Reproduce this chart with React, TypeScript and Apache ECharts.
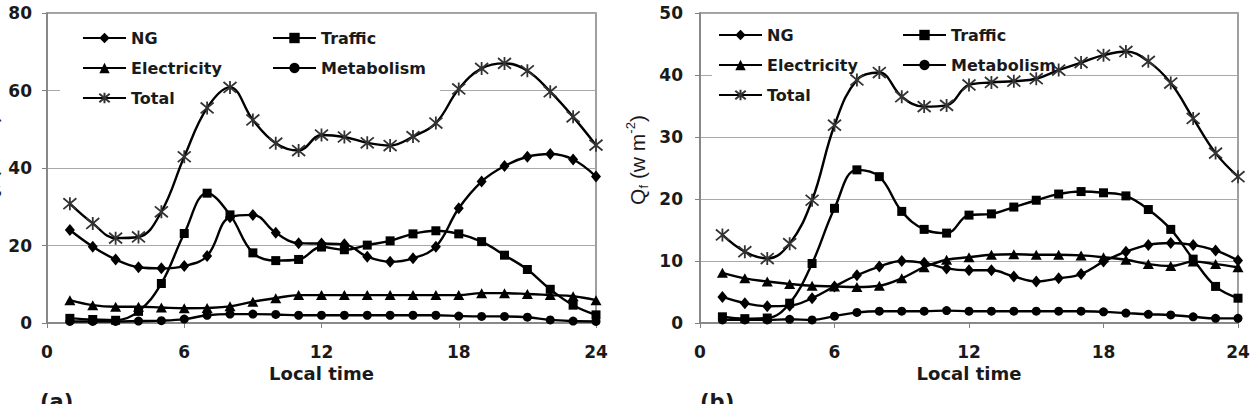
import React, { useEffect, useRef } from "react";
import * as echarts from "echarts";

// Hour of day (local time) for every sample
const HOURS = [1, 2, 3, 4, 5, 6, 7, 8, 9, 10, 11, 12, 13, 14, 15, 16, 17, 18, 19, 20, 21, 22, 23, 24];

// Panel (a): anthropogenic heat flux components
const NG_A = [24.0, 19.7, 16.4, 14.4, 14.1, 14.7, 17.3, 27.3, 27.9, 23.3, 20.6, 20.5, 20.3, 17.1, 15.8, 16.7, 19.7, 29.6, 36.5, 40.5, 42.9, 43.6, 42.2, 37.8];
const TRAFFIC_A = [1.2, 0.9, 0.7, 3.0, 10.2, 23.1, 33.5, 27.9, 18.1, 16.1, 16.4, 19.6, 18.9, 20.1, 21.2, 23.0, 23.8, 23.0, 21.0, 17.5, 13.8, 8.7, 4.6, 2.1];
const ELEC_A = [5.9, 4.6, 4.2, 4.2, 4.0, 3.8, 3.9, 4.3, 5.5, 6.4, 7.2, 7.2, 7.2, 7.2, 7.2, 7.2, 7.2, 7.2, 7.7, 7.7, 7.5, 7.2, 6.9, 5.9];
const META_A = [0.4, 0.4, 0.4, 0.5, 0.6, 1.0, 2.0, 2.3, 2.3, 2.2, 2.0, 2.0, 2.0, 2.0, 2.0, 2.0, 2.0, 1.8, 1.7, 1.7, 1.5, 0.8, 0.5, 0.4];
const TOTAL_A = [30.8, 25.7, 21.9, 22.2, 28.7, 42.9, 55.5, 60.8, 52.4, 46.4, 44.5, 48.5, 48.0, 46.5, 45.8, 48.1, 51.6, 60.4, 65.7, 67.0, 65.1, 59.7, 53.2, 45.9];

// Panel (b)
const NG_B = [4.2, 3.2, 2.7, 2.8, 4.0, 5.9, 7.7, 9.1, 10.0, 9.7, 8.8, 8.5, 8.5, 7.5, 6.7, 7.2, 7.9, 9.9, 11.5, 12.6, 12.9, 12.6, 11.7, 10.1];
const TRAFFIC_B = [1.0, 0.7, 0.8, 3.2, 9.6, 18.5, 24.7, 23.6, 18.0, 15.1, 14.5, 17.4, 17.6, 18.7, 19.8, 20.8, 21.2, 21.0, 20.5, 18.3, 15.1, 10.3, 5.9, 4.0];
const ELEC_B = [8.1, 7.2, 6.7, 6.3, 6.0, 5.9, 5.8, 6.0, 7.2, 9.0, 10.2, 10.6, 11.0, 11.1, 11.0, 11.0, 10.9, 10.6, 10.2, 9.5, 9.2, 9.9, 9.5, 9.0];
const META_B = [0.5, 0.5, 0.5, 0.6, 0.5, 1.1, 1.7, 1.9, 1.9, 1.9, 2.0, 1.9, 1.9, 1.9, 1.9, 1.9, 1.9, 1.8, 1.6, 1.4, 1.3, 1.0, 0.75, 0.75];
const TOTAL_B = [14.2, 11.5, 10.4, 12.8, 19.8, 31.9, 39.2, 40.4, 36.5, 34.9, 35.1, 38.4, 38.8, 39.0, 39.4, 40.8, 42.0, 43.2, 43.8, 42.2, 38.7, 33.0, 27.4, 23.6];

const X_TICKS = { min: 0, max: 24, interval: 6 };
const Y_A = { min: 0, max: 80, interval: 20 };
const Y_B = { min: 0, max: 50, interval: 10 };

const BOLD_FONT = "'DejaVu Sans', Verdana, sans-serif";
const PLAIN_FONT = "'Liberation Sans', Arial, Helvetica, sans-serif";
const INK = "#1a1a1a";
const AXIS_GRAY = "#808080";
const STAR = "path://M0,1L10,11M10,1L0,11M5,0L5,12";

type Kind = "NG" | "Traffic" | "Electricity" | "Metabolism" | "Total";

const MARKERS: Record<Kind, { symbol: string; size: number | number[] }> = {
  NG: { symbol: "diamond", size: [10, 12] },
  Traffic: { symbol: "rect", size: 9 },
  Electricity: { symbol: "triangle", size: [11, 10] },
  Metabolism: { symbol: "circle", size: 9 },
  Total: { symbol: STAR, size: 13 },
};

function makeSeries(name: Kind, values: number[], axis: number) {
  const m = MARKERS[name];
  const star = name === "Total";
  return {
    type: "line",
    name,
    xAxisIndex: axis,
    yAxisIndex: axis,
    data: HOURS.map((h, i) => [h, values[i]]),
    smooth: 0.4,
    symbol: m.symbol,
    symbolSize: m.size,
    showAllSymbol: true,
    z: 3,
    lineStyle: { color: "#000", width: 2.4 },
    itemStyle: star
      ? { color: "#333", borderColor: "#333", borderWidth: 1.8 }
      : { color: "#000", borderColor: "#000", borderWidth: 0 },
    emphasis: { disabled: true },
  };
}

function xAxis(gridIndex: number) {
  return {
    type: "value",
    gridIndex,
    ...X_TICKS,
    name: "Local time",
    nameLocation: "middle",
    nameGap: 37,
    nameTextStyle: { fontFamily: BOLD_FONT, fontWeight: "bold", fontSize: 18, color: INK },
    axisLine: { show: true, lineStyle: { color: AXIS_GRAY, width: 1.5 } },
    axisTick: { show: true, length: 5, lineStyle: { color: AXIS_GRAY } },
    axisLabel: { margin: 20, fontFamily: BOLD_FONT, fontWeight: "bold", fontSize: 17, color: INK },
    splitLine: { show: false },
  };
}

function yAxis(gridIndex: number, range: { min: number; max: number; interval: number }, margin: number) {
  return {
    type: "value",
    gridIndex,
    ...range,
    axisLine: { show: true, lineStyle: { color: AXIS_GRAY, width: 1.5 } },
    axisTick: { show: true, length: 5, lineStyle: { color: AXIS_GRAY } },
    axisLabel: { margin, fontFamily: BOLD_FONT, fontWeight: "bold", fontSize: 17, color: INK },
    splitLine: { show: true, lineStyle: { color: "#a8a8a8", width: 1 } },
  };
}

function legend(left: number, top: number, data: Kind[]) {
  return {
    left,
    top,
    orient: "vertical",
    data,
    selectedMode: false,
    itemWidth: 43,
    itemHeight: 13,
    itemGap: 14,
    padding: 0,
    textStyle: { fontFamily: BOLD_FONT, fontWeight: "bold", fontSize: 16, color: INK, lineHeight: 16 },
  };
}

function yTitle(x: number, y: number) {
  return {
    type: "text",
    x,
    y,
    rotation: Math.PI / 2,
    z: 5,
    style: {
      text: "{m|Q}{s|f}{m| (w m}{p|-2}{m|)}",
      align: "center",
      verticalAlign: "middle",
      fill: INK,
      rich: {
        m: { fontFamily: PLAIN_FONT, fontSize: 21, fill: INK, lineHeight: 26 },
        s: { fontFamily: PLAIN_FONT, fontSize: 13, fill: INK, verticalAlign: "bottom", lineHeight: 26 },
        p: { fontFamily: PLAIN_FONT, fontSize: 13, fill: INK, verticalAlign: "top", lineHeight: 26 },
      },
    },
  };
}

function panelTag(x: number, label: string) {
  return {
    type: "text",
    x,
    y: 391,
    z: 5,
    style: { text: label, fill: INK, font: `bold 21px ${BOLD_FONT}`, align: "left", verticalAlign: "top" },
  };
}

export default function App() {
  const ref = useRef<HTMLDivElement>(null);

  useEffect(() => {
    if (!ref.current) return;
    const chart = echarts.init(ref.current, null, { renderer: "svg" });
    chart.setOption({
      animation: false,
      backgroundColor: "#fff",
      grid: [
        { left: 47, top: 13, width: 549, height: 310, show: true, borderColor: AXIS_GRAY, borderWidth: 1.5 },
        { left: 700, top: 13, width: 538, height: 310, show: true, borderColor: AXIS_GRAY, borderWidth: 1.5 },
      ],
      xAxis: [xAxis(0), xAxis(1)],
      yAxis: [yAxis(0, Y_A, 15), yAxis(1, Y_B, 17)],
      legend: [
        legend(82, 30, ["NG", "Electricity", "Total"]),
        legend(272, 30, ["Traffic", "Metabolism"]),
        legend(718, 27, ["NG", "Electricity", "Total"]),
        legend(902, 27, ["Traffic", "Metabolism"]),
      ],
      graphic: [
        // white legend boxes hide the gridlines behind them
        { type: "rect", z: 1, shape: { x: 60, y: 21, width: 380, height: 88 }, style: { fill: "#fff" } },
        { type: "rect", z: 1, shape: { x: 712, y: 18, width: 352, height: 88 }, style: { fill: "#fff" } },
        yTitle(-11, 160),
        yTitle(637, 160),
        panelTag(40, "(a)"),
        panelTag(700, "(b)"),
      ],
      series: [
        makeSeries("NG", NG_A, 0),
        makeSeries("Traffic", TRAFFIC_A, 0),
        makeSeries("Electricity", ELEC_A, 0),
        makeSeries("Metabolism", META_A, 0),
        makeSeries("Total", TOTAL_A, 0),
        makeSeries("NG", NG_B, 1),
        makeSeries("Traffic", TRAFFIC_B, 1),
        makeSeries("Electricity", ELEC_B, 1),
        makeSeries("Metabolism", META_B, 1),
        makeSeries("Total", TOTAL_B, 1),
      ],
    });
    return () => chart.dispose();
  }, []);

  return (
    <div
      ref={ref}
      style={{ position: "fixed", left: 0, top: 0, width: 1255, height: 404, background: "#fff" }}
    />
  );
}
